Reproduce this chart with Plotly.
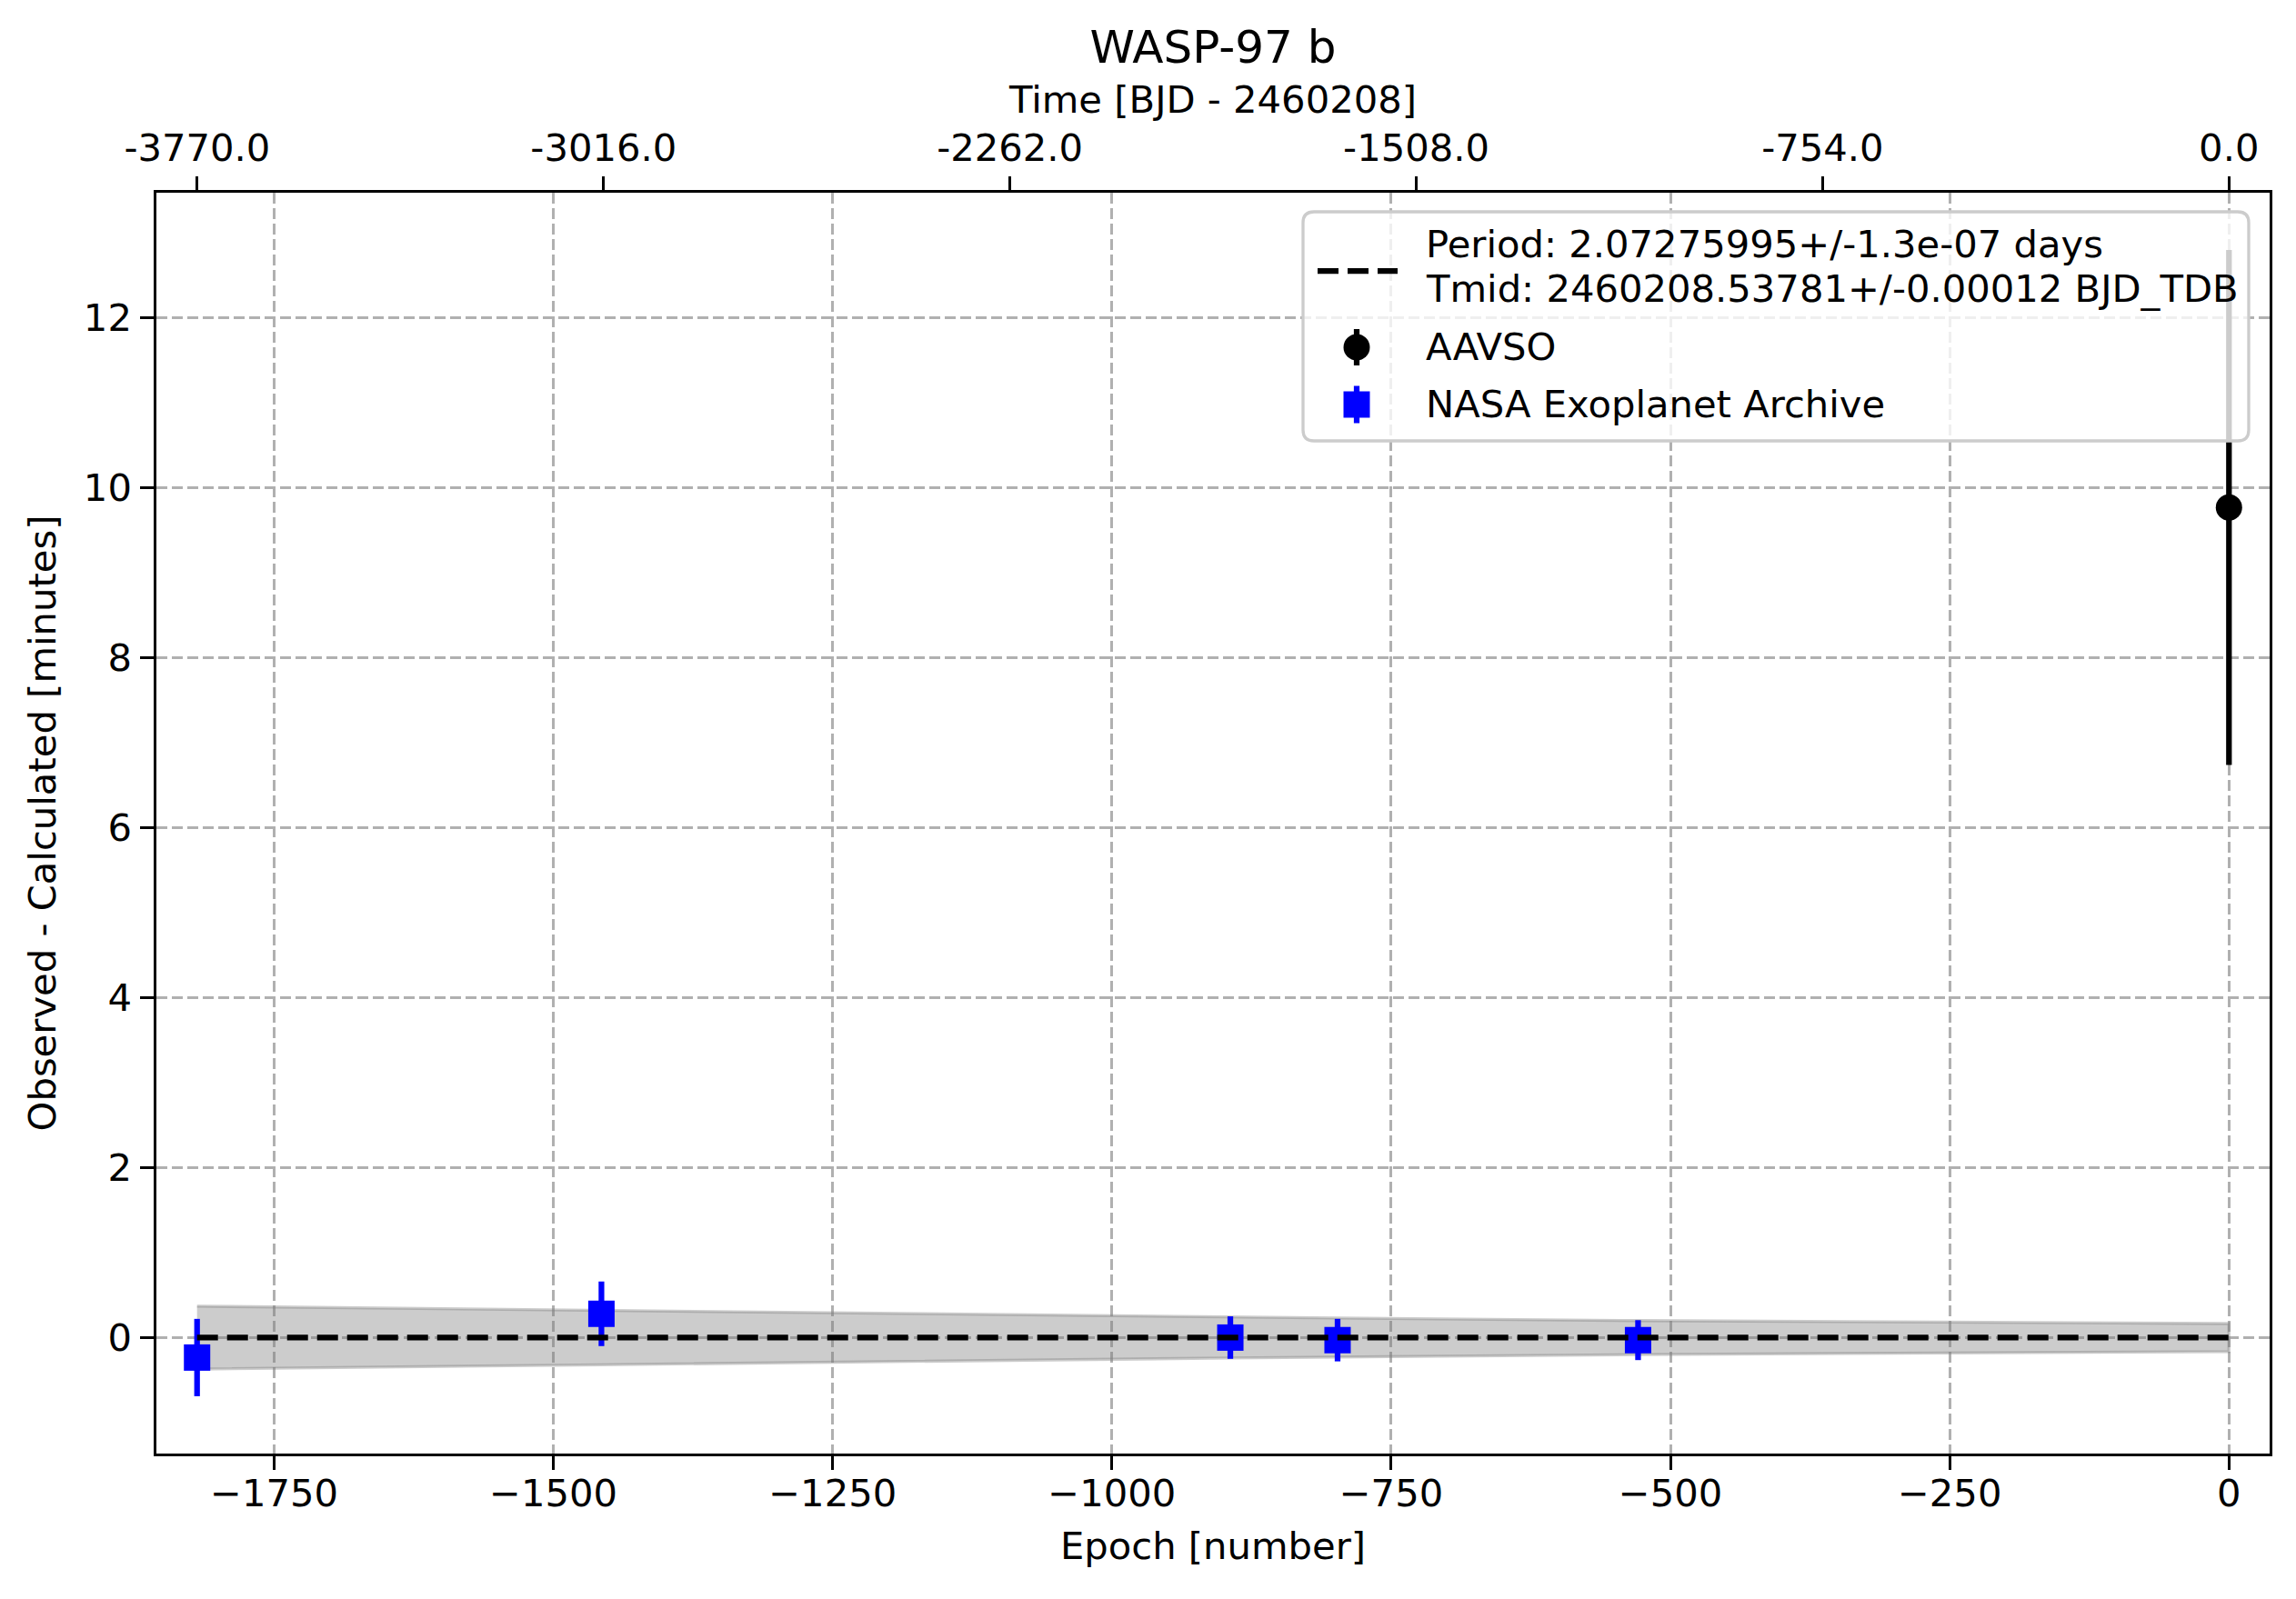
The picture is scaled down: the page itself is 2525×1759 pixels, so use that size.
import plotly.graph_objects as go

# ephemeris used for O-C
period = 2.07275995
period_label = "Period: 2.07275995+/-1.3e-07 days"
tmid_label = "Tmid: 2460208.53781+/-0.00012 BJD_TDB"

# NASA Exoplanet Archive transits (O-C in minutes)
nasa_epoch = [-1819, -1457, -894, -798, -529]
nasa_oc = [-0.235, 0.28, 0.0, -0.03, -0.03]
nasa_err = [0.455, 0.38, 0.25, 0.25, 0.235]

# AAVSO transit
aavso_epoch = [0]
aavso_oc = [9.77]
aavso_err = [3.03]

# linear ephemeris and its 1-sigma uncertainty band
fit_epoch = [-1819, -1457, -894, -798, -529, 0]
fit_oc = [0, 0, 0, 0, 0, 0]
fit_sigma = [0.37, 0.32, 0.24, 0.23, 0.20, 0.165]

# ticks
epoch_ticks = [-1750, -1500, -1250, -1000, -750, -500, -250, 0]
epoch_labels = ["\u22121750", "\u22121500", "\u22121250", "\u22121000",
                "\u2212750", "\u2212500", "\u2212250", "0"]
oc_ticks = [0, 2, 4, 6, 8, 10, 12]
time_ticks = [-3770.0, -3016.0, -2262.0, -1508.0, -754.0, 0.0]
time_labels = ["-3770.0", "-3016.0", "-2262.0", "-1508.0", "-754.0", "0.0"]

x_range = [-1855.4, 36.4]
y_range = [-1.365, 13.475]

# page geometry (pixels); the page body adds an 8px offset
OFF = 8
W, H = 2525 - OFF, 1759 - OFF
ML, MT = 172 - OFF, 212 - OFF
MR, MB = W - (2496 - OFF), H - (1599 - OFF)
PW, PH = W - ML - MR, H - MT - MB
FS = 41.7
FONT = "DejaVu Sans"


def px(x):
    # page x -> paper fraction
    return (x - OFF - ML) / PW


def py(y):
    # page y -> paper fraction
    return (H - MB - (y - OFF)) / PH


fig = go.Figure()

# uncertainty band
fig.add_trace(go.Scatter(
    x=fit_epoch + fit_epoch[::-1],
    y=fit_sigma + [-s for s in fit_sigma[::-1]],
    fill="toself",
    fillcolor="rgba(128,128,128,0.4)",
    line=dict(color="rgba(128,128,128,0.4)", width=3.3),
    mode="lines",
    showlegend=False,
    hoverinfo="skip",
))

fig.add_trace(go.Scatter(
    x=aavso_epoch, y=aavso_oc, mode="markers", name="AAVSO",
    marker=dict(symbol="circle", size=29, color="black"),
    error_y=dict(type="data", array=aavso_err, color="black", thickness=6.25, width=0),
    showlegend=False,
))

fig.add_trace(go.Scatter(
    x=nasa_epoch, y=nasa_oc, mode="markers", name="NASA Exoplanet Archive",
    marker=dict(symbol="square", size=29, color="blue"),
    error_y=dict(type="data", array=nasa_err, color="blue", thickness=6.25, width=0),
    showlegend=False,
))

fig.add_trace(go.Scatter(
    x=fit_epoch, y=fit_oc, mode="lines", name=period_label,
    line=dict(color="black", width=6.25, dash="23px,10px"),
    showlegend=False,
))

# dummy trace to hold the top time axis
fig.add_trace(go.Scatter(
    x=time_ticks, y=[0] * len(time_ticks), xaxis="x2", mode="markers",
    marker=dict(opacity=0), showlegend=False, hoverinfo="skip",
))

# legend drawn by hand (matplotlib style)
lx0, lx1, ly0, ly1 = 1433, 2473, 233, 485
hw, hh, r = (lx1 - lx0) / 2, (ly1 - ly0) / 2, 12
box_path = (f"M {-hw + r},{-hh} L {hw - r},{-hh} Q {hw},{-hh} {hw},{-hh + r} "
            f"L {hw},{hh - r} Q {hw},{hh} {hw - r},{hh} L {-hw + r},{hh} "
            f"Q {-hw},{hh} {-hw},{hh - r} L {-hw},{-hh + r} Q {-hw},{-hh} {-hw + r},{-hh} Z")
shapes = [
    dict(type="path", xref="paper", yref="paper", xsizemode="pixel", ysizemode="pixel",
         xanchor=px((lx0 + lx1) / 2), yanchor=py((ly0 + ly1) / 2), path=box_path,
         fillcolor="rgba(255,255,255,0.8)", line=dict(color="#cccccc", width=3.3),
         layer="above"),
    dict(type="line", xref="paper", yref="paper", xsizemode="pixel", ysizemode="pixel",
         xanchor=px(1492), yanchor=py(298), x0=-43, x1=45, y0=0, y1=0,
         line=dict(color="black", width=6.25, dash="23px,10px"), layer="above"),
    dict(type="line", xref="paper", yref="paper", xsizemode="pixel", ysizemode="pixel",
         xanchor=px(1492), yanchor=py(382), x0=0, x1=0, y0=-20, y1=20,
         line=dict(color="black", width=6.25), layer="above"),
    dict(type="circle", xref="paper", yref="paper", xsizemode="pixel", ysizemode="pixel",
         xanchor=px(1492), yanchor=py(382), x0=-14.5, x1=14.5, y0=-14.5, y1=14.5,
         fillcolor="black", line=dict(width=0), layer="above"),
    dict(type="line", xref="paper", yref="paper", xsizemode="pixel", ysizemode="pixel",
         xanchor=px(1492), yanchor=py(445), x0=0, x1=0, y0=-20.5, y1=20.5,
         line=dict(color="blue", width=6.25), layer="above"),
    dict(type="rect", xref="paper", yref="paper", xsizemode="pixel", ysizemode="pixel",
         xanchor=px(1492), yanchor=py(445), x0=-14.5, x1=14.5, y0=-14.5, y1=14.5,
         fillcolor="blue", line=dict(width=0), layer="above"),
]

legend_text = [(period_label, 268), (tmid_label, 317), ("AAVSO", 381),
               ("NASA Exoplanet Archive", 444)]
annotations = [
    dict(text=t, xref="paper", yref="paper", x=px(1566), y=py(yc), xanchor="left",
         yanchor="middle", showarrow=False, font=dict(family=FONT, size=FS, color="black"))
    for t, yc in legend_text
]

axis_common = dict(
    showline=True, linecolor="black", linewidth=3.3,
    ticks="outside", ticklen=14.6, tickwidth=3.3, tickcolor="black",
    zeroline=False, automargin=False,
    tickfont=dict(family=FONT, size=FS, color="black"),
)

fig.update_layout(
    width=W, height=H,
    margin=dict(l=ML, r=MR, t=MT, b=MB),
    template="none",
    paper_bgcolor="white", plot_bgcolor="white",
    font=dict(family=FONT, size=FS, color="black"),
    title=dict(text="WASP-97 b", x=0.5, xref="paper", xanchor="center",
               y=1 - (51 - OFF) / H, yref="container", yanchor="middle",
               font=dict(family=FONT, size=50, color="black")),
    xaxis=dict(
        **axis_common, range=x_range, mirror=True,
        tickvals=epoch_ticks, ticktext=epoch_labels, ticklabelstandoff=-10,
        showgrid=True, gridcolor="#b0b0b0", gridwidth=3.3, griddash="12px,5px",
        title=dict(text="Epoch [number]", standoff=21,
                   font=dict(family=FONT, size=FS, color="black")),
    ),
    xaxis2=dict(
        **axis_common, overlaying="x", side="top", anchor="y",
        range=[x_range[0] * period, x_range[1] * period],
        tickvals=time_ticks, ticktext=time_labels, ticklabelstandoff=1,
        showgrid=False,
        title=dict(text="Time [BJD - 2460208]", standoff=0,
                   font=dict(family=FONT, size=FS, color="black")),
    ),
    yaxis=dict(
        **axis_common, range=y_range, mirror=True,
        tickvals=oc_ticks, ticktext=[str(v) for v in oc_ticks], ticklabelstandoff=1,
        showgrid=True, gridcolor="#b0b0b0", gridwidth=3.3, griddash="12px,5px",
        title=dict(text="Observed - Calculated [minutes]", standoff=18,
                   font=dict(family=FONT, size=FS, color="black")),
    ),
    shapes=shapes,
    annotations=annotations,
    showlegend=False,
)

fig.write_html("out.html")
